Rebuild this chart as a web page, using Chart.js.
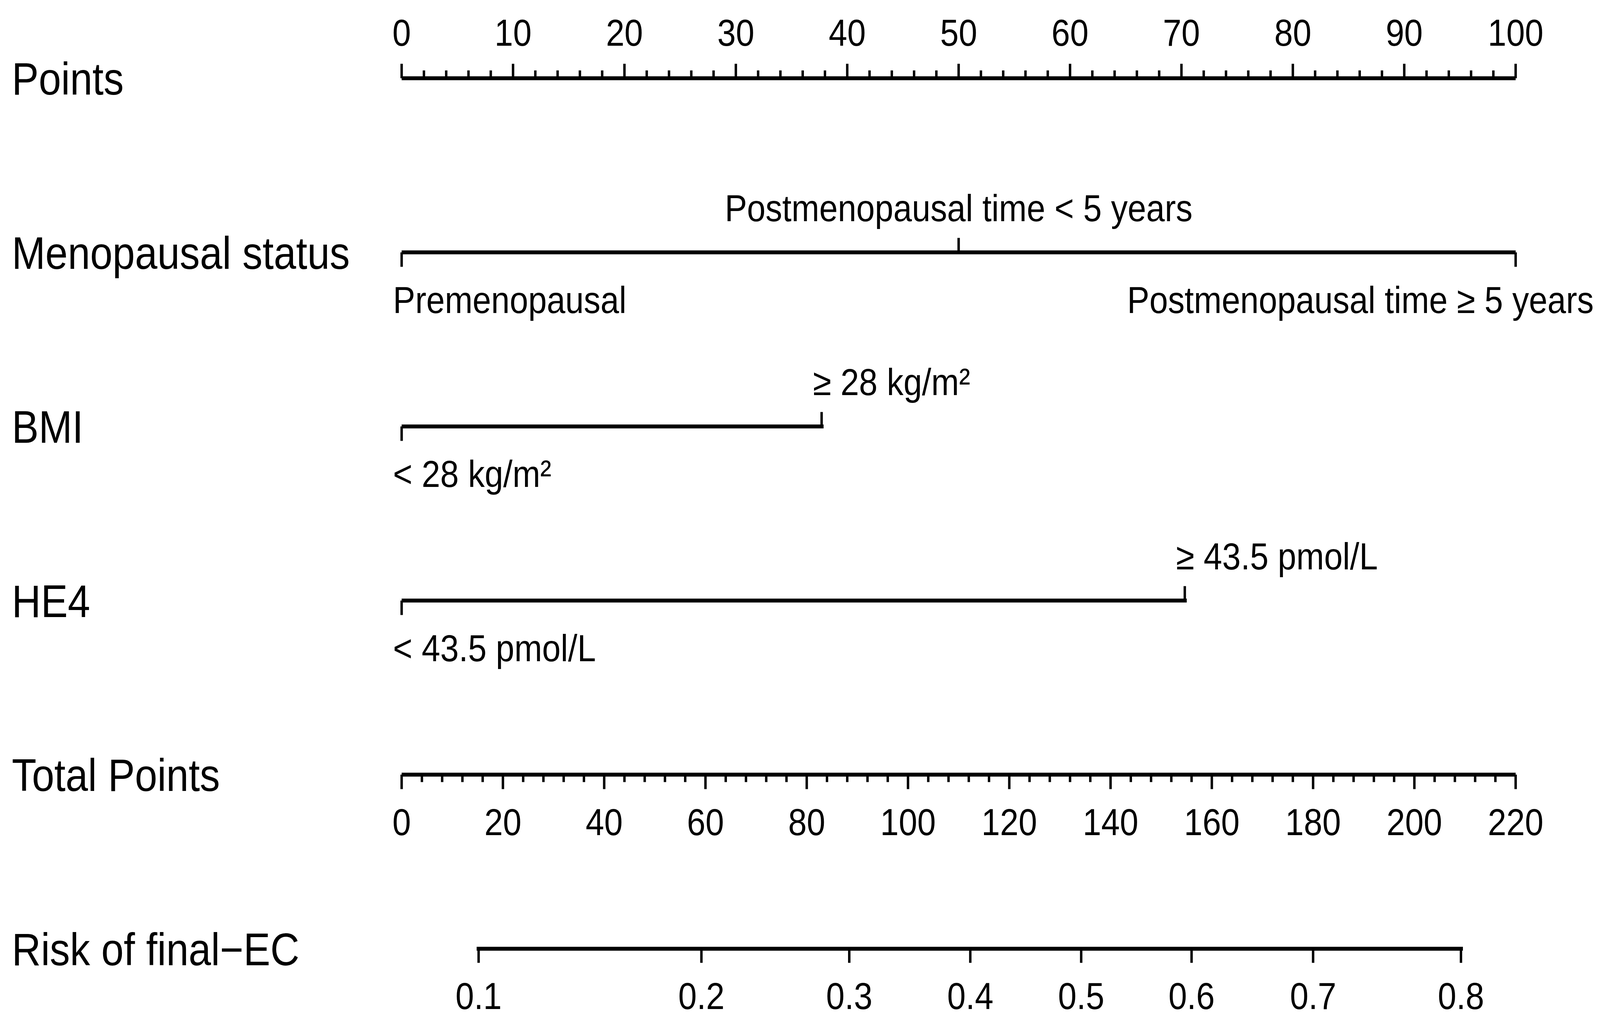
<!DOCTYPE html>
<html lang="en">
<head>
  <meta charset="UTF-8">
  <title>Nomogram: Risk of final-EC</title>
  <script src="https://cdn.jsdelivr.net/npm/chart.js"></script>
  <style>
    html, body { margin: 0; padding: 0; background: #fff; overflow: hidden; }
    #wrap { width: 100vw; height: 100vh; }
  </style>
</head>
<body>
  <div id="wrap"><canvas id="nomo"></canvas></div>

  <script>
    // Row names, top to bottom
    const rowLabels = ['Points', 'Menopausal status', 'BMI', 'HE4', 'Total Points', 'Risk of final\u2212EC'];

    // Points scale (0-100)
    const pointsMajor = [0, 10, 20, 30, 40, 50, 60, 70, 80, 90, 100];
    const pointsMinorStep = 2;

    // Predictor levels and the points they map to
    const menoLabels = ['Premenopausal', 'Postmenopausal time < 5 years', 'Postmenopausal time \u2265 5 years'];
    const menoPoints = [0, 50, 100];
    const bmiLabels = ['< 28 kg/m\u00b2', '\u2265 28 kg/m\u00b2'];
    const bmiPoints = [0, 37.7];
    const he4Labels = ['< 43.5 pmol/L', '\u2265 43.5 pmol/L'];
    const he4Points = [0, 70.3];

    // Total points scale (0-220)
    const totalMajor = [0, 20, 40, 60, 80, 100, 120, 140, 160, 180, 200, 220];
    const totalMinorStep = 4;

    // Risk ticks and where they sit on the total points scale
    const riskTicks = [0.1, 0.2, 0.3, 0.4, 0.5, 0.6, 0.7, 0.8];
    const riskTickPoints = [15.2, 59.2, 88.4, 112.3, 134.2, 156.0, 180.0, 209.2];

    const FONT = '"Liberation Sans", Arial, sans-serif';
    // layout is measured on a 4609x2628 picture; kx/ky map it to the real viewport
    const kx = window.innerWidth / 4609;
    const ky = window.innerHeight / 2628;
    const canvas = document.getElementById('nomo');
    canvas.style.width = window.innerWidth + 'px';
    canvas.style.height = window.innerHeight + 'px';

    const variables = [
      { row: 1, labels: menoLabels, pts: menoPoints, side: ['below', 'above', 'below'], align: ['left', 'center', 'edge'] },
      { row: 2, labels: bmiLabels, pts: bmiPoints, side: ['below', 'above'], align: ['left', 'left'] },
      { row: 3, labels: he4Labels, pts: he4Points, side: ['below', 'above'], align: ['left', 'left'] }
    ];

    function seg(from, to, row, axis) {
      return {
        data: [{ x: from, y: row }, { x: to, y: row }],
        xAxisID: axis,
        showLine: true,
        borderColor: '#000',
        borderWidth: 10 * ky,
        borderCapStyle: 'square',
        pointRadius: 0
      };
    }

    const datasets = [
      seg(pointsMajor[0], pointsMajor[pointsMajor.length - 1], 0, 'x'),
      ...variables.map(v => seg(v.pts[0], v.pts[v.pts.length - 1], v.row, 'x')),
      seg(totalMajor[0], totalMajor[totalMajor.length - 1], 4, 'xTotal'),
      seg(riskTickPoints[0], riskTickPoints[riskTickPoints.length - 1], 5, 'xTotal')
    ];

    const nomogramPlugin = {
      id: 'nomogram',
      afterDatasetsDraw(chart) {
        const { ctx, scales } = chart;
        const x = scales.x, xt = scales.xTotal, y = scales.y;
        ctx.save();
        ctx.fillStyle = '#000';
        ctx.strokeStyle = '#000';
        ctx.lineCap = 'butt';

        function tick(px, py, len) {
          ctx.lineWidth = 7 * kx;
          ctx.beginPath();
          ctx.moveTo(px, py);
          ctx.lineTo(px, py + len * ky);
          ctx.stroke();
        }
        // text keeps the reference proportions even if the viewport aspect differs
        function text(str, px, py, align, size) {
          ctx.save();
          ctx.translate(px, py);
          ctx.scale(kx / ky, 1);
          ctx.font = (size * ky) + 'px ' + FONT;
          ctx.textAlign = align;
          ctx.textBaseline = 'alphabetic';
          ctx.fillText(str, 0, 0);
          ctx.restore();
        }

        // Row names
        rowLabels.forEach((lab, i) => text(lab, 34 * kx, y.getPixelForValue(i) + 42 * ky, 'left', 116));

        // Points axis: ticks up, labels above
        const y0 = y.getPixelForValue(0);
        for (let v = pointsMajor[0]; v <= pointsMajor[pointsMajor.length - 1]; v += pointsMinorStep) {
          tick(x.getPixelForValue(v), y0, pointsMajor.includes(v) ? -37 : -20);
        }
        pointsMajor.forEach(v => text(String(v), x.getPixelForValue(v), y0 - 83 * ky, 'center', 96));

        // Predictors
        variables.forEach(v => {
          const py = y.getPixelForValue(v.row);
          v.pts.forEach((p, i) => {
            const px = x.getPixelForValue(p);
            const below = v.side[i] === 'below';
            tick(px, py, below ? 37 : -37);
            const ty = below ? py + 155 * ky : py - 80 * ky;
            if (v.align[i] === 'left') text(v.labels[i], px - 25 * kx, ty, 'left', 96);
            else if (v.align[i] === 'center') text(v.labels[i], px, ty, 'center', 96);
            else text(v.labels[i], chart.width - 18 * kx, ty, 'right', 96);
          });
        });

        // Total points axis: ticks down, labels below
        const y4 = y.getPixelForValue(4);
        for (let v = totalMajor[0]; v <= totalMajor[totalMajor.length - 1]; v += totalMinorStep) {
          tick(xt.getPixelForValue(v), y4, totalMajor.includes(v) ? 37 : 19);
        }
        totalMajor.forEach(v => text(String(v), xt.getPixelForValue(v), y4 + 155 * ky, 'center', 96));

        // Risk axis
        const y5 = y.getPixelForValue(5);
        riskTicks.forEach((r, i) => {
          const px = xt.getPixelForValue(riskTickPoints[i]);
          tick(px, y5, 36);
          text(r.toFixed(1), px, y5 + 154 * ky, 'center', 96);
        });

        ctx.restore();
      }
    };

    new Chart(canvas, {
      type: 'scatter',
      data: { datasets },
      options: {
        responsive: false,
        animation: false,
        layout: { padding: { left: 1157 * kx, right: 243 * kx, top: 22 * ky, bottom: 22 * ky } },
        plugins: { legend: { display: false }, tooltip: { enabled: false } },
        scales: {
          x: { type: 'linear', min: 0, max: 100, display: false },
          xTotal: { type: 'linear', min: 0, max: 220, display: false },
          y: { type: 'linear', min: -0.4, max: 5.4, reverse: true, display: false }
        }
      },
      plugins: [nomogramPlugin]
    });
  </script>
</body>
</html>
